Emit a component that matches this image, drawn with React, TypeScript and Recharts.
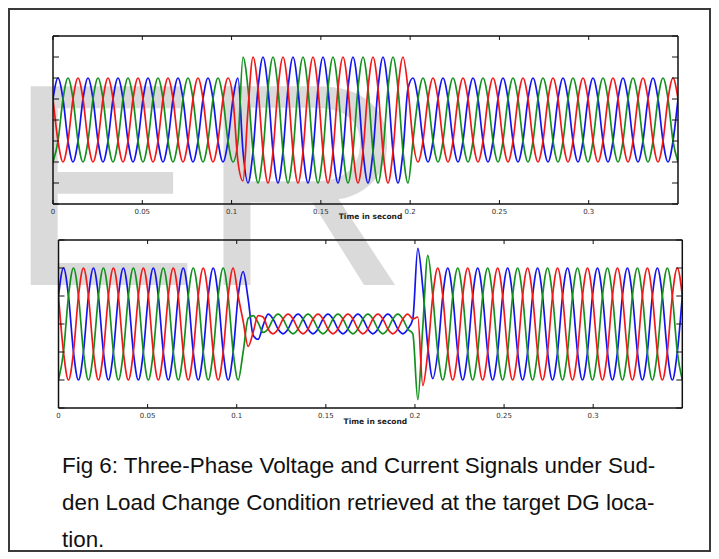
import React from 'react';
import { LineChart, Line, XAxis, YAxis } from 'recharts';

// ---------- data ----------
const STEP = 0.0028; // sample spacing in seconds (60 electrical degrees)
const X_DOMAIN = [0, 0.35];
const X_TICKS = [0, 0.05, 0.1, 0.15, 0.2, 0.25, 0.3];
const X_TICK_LABELS = ['0', '0.05', '0.1', '0.15', '0.2', '0.25', '0.3'];
const TOP_Y_TICKS = [-4, -3, -2, -1, 0, 1, 2, 3, 4];
const BOTTOM_Y_TICKS = [-3, -2, -1, 0, 1, 2, 3];
const X_LABEL = 'Time in second';
const WATERMARK = 'ER';
const CAPTION_LINES = [
  'Fig 6: Three-Phase Voltage and Current Signals under Sud-',
  'den Load Change Condition retrieved at the target DG loca-',
  'tion.',
];

// Voltage panel (top)
const TOP_BLUE = [
  1, 2, 1, -1, -2, -1,
  1, 2, 1, -1, -2, -1,
  1, 2, 1, -1, -2, -1,
  1, 2, 1, -1, -2, -1,
  1, 2, 1, -1, -2, -1,
  1, 2, 1, -1, -2, -1,
  1, 2,
  -1.5, -3, -1.5, 1.5,
  3, 1.5, -1.5, -3, -1.5, 1.5,
  3, 1.5, -1.5, -3, -1.5, 1.5,
  3, 1.5, -1.5, -3, -1.5, 1.5,
  3, 1.5, -1.5, -3, -1.5, 1.5,
  3, 1.5, -1.5, -3, -1.5, 1.5,
  2, 1, -1, -2, -1, 1,
  2, 1, -1, -2, -1, 1,
  2, 1, -1, -2, -1, 1,
  2, 1, -1, -2, -1, 1,
  2, 1, -1, -2, -1, 1,
  2, 1, -1, -2, -1, 1,
  2, 1, -1, -2, -1, 1,
  2, 1, -1, -2, -1, 1,
  2, 1, -1, -2, -1, 1,
];
const TOP_GREEN = [
  -2, -1, 1, 2, 1, -1,
  -2, -1, 1, 2, 1, -1,
  -2, -1, 1, 2, 1, -1,
  -2, -1, 1, 2, 1, -1,
  -2, -1, 1, 2, 1, -1,
  -2, -1, 1, 2, 1, -1,
  -2, -1,
  3, 1.5, -1.5, -3,
  -1.5, 1.5, 3, 1.5, -1.5, -3,
  -1.5, 1.5, 3, 1.5, -1.5, -3,
  -1.5, 1.5, 3, 1.5, -1.5, -3,
  -1.5, 1.5, 3, 1.5, -1.5, -3,
  -1.5, 1.5, 3, 1.5, -1.5, -3,
  -1, 1, 2, 1, -1, -2,
  -1, 1, 2, 1, -1, -2,
  -1, 1, 2, 1, -1, -2,
  -1, 1, 2, 1, -1, -2,
  -1, 1, 2, 1, -1, -2,
  -1, 1, 2, 1, -1, -2,
  -1, 1, 2, 1, -1, -2,
  -1, 1, 2, 1, -1, -2,
  -1, 1, 2, 1, -1, -2,
];
const TOP_RED = [
  1, -1, -2, -1, 1, 2,
  1, -1, -2, -1, 1, 2,
  1, -1, -2, -1, 1, 2,
  1, -1, -2, -1, 1, 2,
  1, -1, -2, -1, 1, 2,
  1, -1, -2, -1, 1, 2,
  1, -2,
  -2.9, 0.5, 3, 1.5,
  -1.5, -3, -1.5, 1.5, 3, 1.5,
  -1.5, -3, -1.5, 1.5, 3, 1.5,
  -1.5, -3, -1.5, 1.5, 3, 1.5,
  -1.5, -3, -1.5, 1.5, 3, 1.5,
  -1.5, -3, -1.5, 1.5, 3, 1.5,
  -1, -2, -1, 1, 2, 1,
  -1, -2, -1, 1, 2, 1,
  -1, -2, -1, 1, 2, 1,
  -1, -2, -1, 1, 2, 1,
  -1, -2, -1, 1, 2, 1,
  -1, -2, -1, 1, 2, 1,
  -1, -2, -1, 1, 2, 1,
  -1, -2, -1, 1, 2, 1,
  -1, -2, -1, 1, 2, 1,
];

// Current panel (bottom)
const BOTTOM_BLUE = [
  1, 2, 1, -1, -2, -1,
  1, 2, 1, -1, -2, -1,
  1, 2, 1, -1, -2, -1,
  1, 2, 1, -1, -2, -1,
  1, 2, 1, -1, -2, -1,
  1, 2, 1, -1, -2, -1,
  1, 1.87, 0.9, -0.4, -0.55, -0.05,
  0.35, 0.18, -0.18, -0.35, -0.18, 0.18,
  0.35, 0.18, -0.18, -0.35, -0.18, 0.18,
  0.35, 0.18, -0.18, -0.35, -0.18, 0.18,
  0.35, 0.18, -0.18, -0.35, -0.18, 0.18,
  0.35, 0.18, -0.18, -0.35, -0.18, 0.18,
  2.7, 1.3, -0.8, -1.95, -1, 1,
  2, 1, -1, -2, -1, 1,
  2, 1, -1, -2, -1, 1,
  2, 1, -1, -2, -1, 1,
  2, 1, -1, -2, -1, 1,
  2, 1, -1, -2, -1, 1,
  2, 1, -1, -2, -1, 1,
  2, 1, -1, -2, -1, 1,
  2, 1, -1, -2, -1, 1,
];
const BOTTOM_GREEN = [
  -2, -1, 1, 2, 1, -1,
  -2, -1, 1, 2, 1, -1,
  -2, -1, 1, 2, 1, -1,
  -2, -1, 1, 2, 1, -1,
  -2, -1, 1, 2, 1, -1,
  -2, -1, 1, 2, 1, -1,
  -2, -1, 0.2, 0.3, 0.05, -0.3,
  -0.18, 0.18, 0.35, 0.18, -0.18, -0.35,
  -0.18, 0.18, 0.35, 0.18, -0.18, -0.35,
  -0.18, 0.18, 0.35, 0.18, -0.18, -0.35,
  -0.18, 0.18, 0.35, 0.18, -0.18, -0.35,
  -0.18, 0.18, 0.35, 0.18, -0.18, -0.35,
  -2.7, -0.1, 2.45, 1, -1, -2,
  -1, 1, 2, 1, -1, -2,
  -1, 1, 2, 1, -1, -2,
  -1, 1, 2, 1, -1, -2,
  -1, 1, 2, 1, -1, -2,
  -1, 1, 2, 1, -1, -2,
  -1, 1, 2, 1, -1, -2,
  -1, 1, 2, 1, -1, -2,
  -1, 1, 2, 1, -1, -2,
];
const BOTTOM_RED = [
  1, -1, -2, -1, 1, 2,
  1, -1, -2, -1, 1, 2,
  1, -1, -2, -1, 1, 2,
  1, -1, -2, -1, 1, 2,
  1, -1, -2, -1, 1, 2,
  1, -1, -2, -1, 1, 2,
  1, 0.1, -0.8, -0.3, 0.3, 0.25,
  -0.18, -0.35, -0.18, 0.18, 0.35, 0.18,
  -0.18, -0.35, -0.18, 0.18, 0.35, 0.18,
  -0.18, -0.35, -0.18, 0.18, 0.35, 0.18,
  -0.18, -0.35, -0.18, 0.18, 0.35, 0.18,
  -0.18, -0.35, -0.18, 0.18, 0.35, 0.18,
  0.25, -2.2, -1, 1, 2, 1,
  -1, -2, -1, 1, 2, 1,
  -1, -2, -1, 1, 2, 1,
  -1, -2, -1, 1, 2, 1,
  -1, -2, -1, 1, 2, 1,
  -1, -2, -1, 1, 2, 1,
  -1, -2, -1, 1, 2, 1,
  -1, -2, -1, 1, 2, 1,
  -1, -2, -1, 1, 2, 1,
];

// ---------- table for the library ----------
type Row = { t: number; a: number; b: number; c: number };
const buildRows = (a: number[], b: number[], c: number[]): Row[] =>
  a.map((v, i) => ({ t: +(i * STEP).toFixed(5), a: v, b: b[i], c: c[i] }));

const TOP_ROWS = buildRows(TOP_BLUE, TOP_GREEN, TOP_RED);
const BOTTOM_ROWS = buildRows(BOTTOM_BLUE, BOTTOM_GREEN, BOTTOM_RED);

// ---------- styling ----------
const FRAME = '#111';
const COLORS = { a: '#1414f0', b: '#14901e', c: '#f01818' };
const TICK_FONT = '"DejaVu Sans", sans-serif';

const labelFor = (v: number) => {
  const i = X_TICKS.indexOf(v);
  return i >= 0 ? X_TICK_LABELS[i] : String(v);
};

const BottomTick = (p: any) => (
  <g>
    <line x1={p.x} x2={p.x} y1={p.y} y2={p.y - 4} stroke={FRAME} strokeWidth={1} />
    <text x={p.x} y={p.y + 10} textAnchor="middle" fontSize={7} fontFamily={TICK_FONT} fill="#333">
      {labelFor(p.payload.value)}
    </text>
  </g>
);
const TopTick = (p: any) => (
  <line x1={p.x} x2={p.x} y1={p.y} y2={p.y + 4} stroke={FRAME} strokeWidth={1} />
);
const LeftTick = (p: any) => (
  <line x1={p.x} x2={p.x + 6} y1={p.y} y2={p.y} stroke={FRAME} strokeWidth={1} />
);
const RightTick = (p: any) => (
  <line x1={p.x} x2={p.x - 6} y1={p.y} y2={p.y} stroke={FRAME} strokeWidth={1} />
);

const axisLine = { stroke: FRAME, strokeWidth: 1.5 };

type PanelProps = {
  rows: Row[];
  yTicks: number[];
  width: number;
  height: number;
  margin: { top: number; right: number; bottom: number; left: number };
  labelDy: number;
};

function Panel({ rows, yTicks, width, height, margin, labelDy }: PanelProps) {
  const yDomain = [yTicks[0], yTicks[yTicks.length - 1]];
  return (
    <LineChart width={width} height={height} data={rows} margin={margin}>
      <XAxis
        xAxisId="bottom"
        dataKey="t"
        type="number"
        domain={X_DOMAIN}
        ticks={X_TICKS}
        interval={0}
        allowDataOverflow
        height={20}
        tickSize={0}
        tickMargin={0}
        tickLine={false}
        axisLine={axisLine}
        tick={BottomTick}
        label={{
          value: X_LABEL,
          content: (lp: any) => {
            const vb = lp.viewBox || {};
            return (
              <text
                x={vb.x + vb.width / 2 + 5}
                y={vb.y + labelDy}
                textAnchor="middle"
                fontSize={7.5}
                fontWeight="bold"
                fontFamily={TICK_FONT}
                fill="#222"
              >
                {X_LABEL}
              </text>
            );
          },
        }}
      />
      <XAxis
        xAxisId="top"
        orientation="top"
        dataKey="t"
        type="number"
        domain={X_DOMAIN}
        ticks={X_TICKS}
        interval={0}
        allowDataOverflow
        height={1}
        tickSize={0}
        tickMargin={0}
        tickLine={false}
        axisLine={axisLine}
        tick={TopTick}
      />
      <YAxis
        yAxisId="left"
        type="number"
        domain={yDomain}
        ticks={yTicks}
        interval={0}
        allowDataOverflow
        width={1}
        tickSize={0}
        tickMargin={0}
        tickLine={false}
        axisLine={axisLine}
        tick={LeftTick}
      />
      <YAxis
        yAxisId="right"
        orientation="right"
        type="number"
        domain={yDomain}
        ticks={yTicks}
        interval={0}
        allowDataOverflow
        width={1}
        tickSize={0}
        tickMargin={0}
        tickLine={false}
        axisLine={axisLine}
        tick={RightTick}
      />
      <Line xAxisId="bottom" yAxisId="left" type="monotone" dataKey="a" stroke={COLORS.a} strokeWidth={1.7} dot={false} activeDot={false} isAnimationActive={false} />
      <Line xAxisId="bottom" yAxisId="left" type="monotone" dataKey="b" stroke={COLORS.b} strokeWidth={1.7} dot={false} activeDot={false} isAnimationActive={false} />
      <Line xAxisId="bottom" yAxisId="left" type="monotone" dataKey="c" stroke={COLORS.c} strokeWidth={1.7} dot={false} activeDot={false} isAnimationActive={false} />
      <Line xAxisId="top" yAxisId="right" dataKey="a" stroke="none" dot={false} activeDot={false} legendType="none" isAnimationActive={false} />
    </LineChart>
  );
}

export default function App() {
  return (
    <div style={{ position: 'relative', width: 703, height: 544, background: '#fff' }}>
      <svg width={703} height={544} style={{ position: 'absolute', left: 0, top: 0 }}>
        <text x={-1} y={277} fontSize={289} fontFamily='"Liberation Sans", Arial, sans-serif' fill="#dadada">
          {WATERMARK}
        </text>
      </svg>
      <div style={{ position: 'absolute', left: 0, top: 0 }}>
        <Panel
          rows={TOP_ROWS}
          yTicks={TOP_Y_TICKS}
          width={703}
          height={232}
          margin={{ top: 27, right: 32, bottom: 16, left: 44 }}
          labelDy={15}
        />
      </div>
      <div style={{ position: 'absolute', left: 0, top: 225 }}>
        <Panel
          rows={BOTTOM_ROWS}
          yTicks={BOTTOM_Y_TICKS}
          width={703}
          height={200}
          margin={{ top: 6, right: 27.7, bottom: 5, left: 49.5 }}
          labelDy={16}
        />
      </div>
      <div
        style={{
          position: 'absolute',
          left: 54,
          top: 439,
          fontFamily: '"Liberation Sans", Arial, sans-serif',
          fontSize: 22.4,
          lineHeight: '37px',
          color: '#111',
          whiteSpace: 'nowrap',
        }}
      >
        {CAPTION_LINES.map((l, i) => (
          <div key={i}>{l}</div>
        ))}
      </div>
      <div
        style={{
          position: 'absolute',
          left: 0,
          top: 0,
          width: 703,
          height: 544,
          border: '2px solid #3a3a3a',
          boxSizing: 'border-box',
          pointerEvents: 'none',
        }}
      />
    </div>
  );
}
